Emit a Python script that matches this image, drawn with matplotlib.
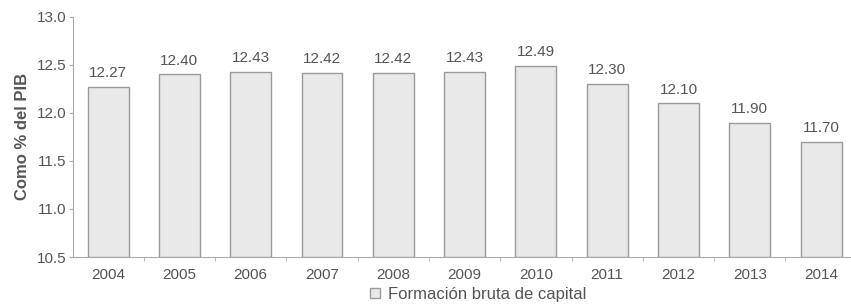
import matplotlib.pyplot as plt
import numpy as np

plt.rcParams['font.family'] = ['Liberation Sans', 'DejaVu Sans']

years = ['2004', '2005', '2006', '2007', '2008', '2009', '2010', '2011', '2012', '2013', '2014']
values = [12.27, 12.40, 12.43, 12.42, 12.42, 12.43, 12.49, 12.30, 12.10, 11.90, 11.70]
labels = ['12.27', '12.40', '12.43', '12.42', '12.42', '12.43', '12.49', '12.30', '12.10', '11.90', '11.70']

grey = '#555555'
fig = plt.figure(figsize=(8.51, 3.06), dpi=100)
ax = fig.add_axes([0.086, 0.16, 0.914, 0.785])

x = np.arange(len(years))
bars = ax.bar(x, [v - 10.5 for v in values], bottom=10.5, width=0.575,
              color='#e9e9e9', edgecolor='#9a9a9a', linewidth=1.0,
              label='Formación bruta de capital')
for xi, v, l in zip(x, values, labels):
    ax.text(xi, v + 0.07, l, ha='center', va='bottom', fontsize=11, color=grey)

ax.set_ylim(10.5, 13.0)
ax.set_yticks(np.arange(10.5, 13.01, 0.5))
ax.set_yticklabels(['%.1f' % t for t in np.arange(10.5, 13.01, 0.5)])
ax.set_xlim(-0.49, 10.42)
ax.set_xticks(x)
ax.set_xticklabels(years)
ax.set_xticks(x[:-1] + 0.5, minor=True)
ax.tick_params(axis='x', which='major', length=0, labelsize=11, colors=grey, pad=8)
ax.tick_params(axis='x', which='minor', length=3, color='#aaaaaa')
ax.tick_params(axis='y', length=3, labelsize=11, colors=grey, color='#aaaaaa', pad=2)
ax.set_ylabel('Como % del PIB', fontsize=12, fontweight='bold', color=grey, labelpad=5)

for s in ['top', 'right']:
    ax.spines[s].set_visible(False)
ax.spines['left'].set_color('#aaaaaa')
ax.spines['bottom'].set_color('#aaaaaa')

fig.legend(handles=[bars], loc='lower center', bbox_to_anchor=(0.562, -0.035),
           frameon=False, fontsize=12, labelcolor=grey, handlelength=0.6,
           handleheight=0.6, handletextpad=0.5)

plt.savefig('out.png', dpi=100)
